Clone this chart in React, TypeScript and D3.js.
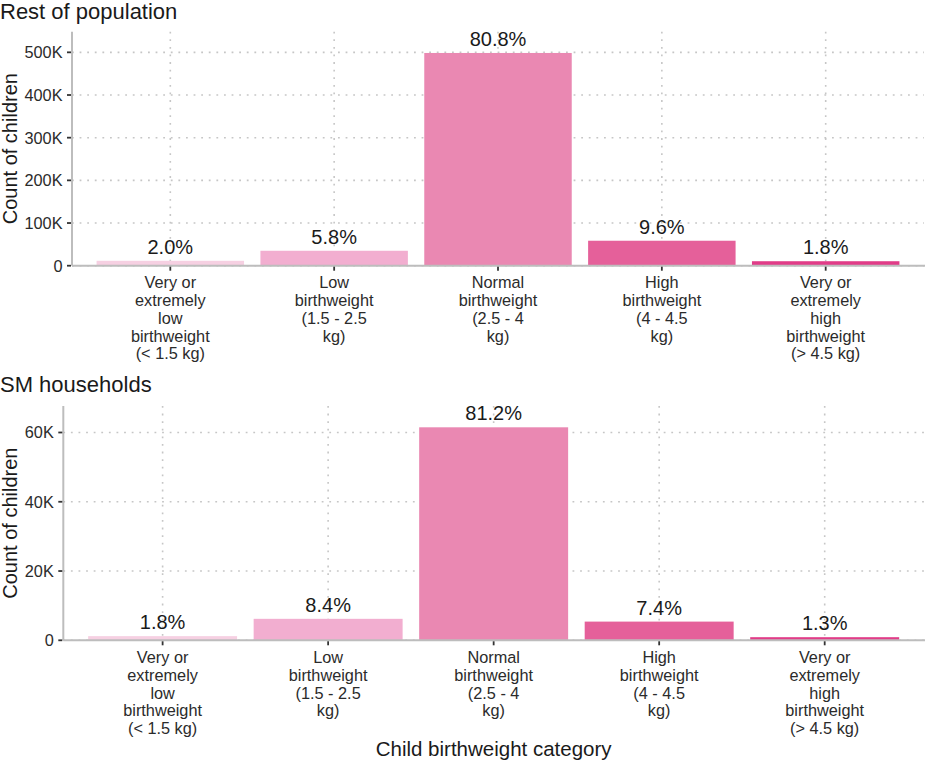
import React from "react";
import * as d3 from "d3";

const categoryLines: string[][] = [
  ["Very or", "extremely", "low", "birthweight", "(< 1.5 kg)"],
  ["Low", "birthweight", "(1.5 - 2.5", "kg)"],
  ["Normal", "birthweight", "(2.5 - 4", "kg)"],
  ["High", "birthweight", "(4 - 4.5", "kg)"],
  ["Very or", "extremely", "high", "birthweight", "(> 4.5 kg)"],
];
const categoryKeys = ["vlow", "low", "normal", "high", "vhigh"];
const barColors = ["#f6d0e2", "#f2aed0", "#ea88b2", "#e5609a", "#e13c88"];

const restCounts = [11500, 35000, 498500, 58500, 10500];
const restPct = ["2.0%", "5.8%", "80.8%", "9.6%", "1.8%"];
const restTicks = [0, 100000, 200000, 300000, 400000, 500000];

const smCounts = [1200, 6200, 61500, 5400, 900];
const smPct = ["1.8%", "8.4%", "81.2%", "7.4%", "1.3%"];
const smTicks = [0, 20000, 40000, 60000];

const FONT = "'Liberation Sans', Arial, sans-serif";
const fmt = (v: number) => (v === 0 ? "0" : `${v / 1000}K`);

type PanelProps = {
  title: string;
  titleY: number;
  counts: number[];
  pct: string[];
  ticks: number[];
  left: number;
  right: number;
  top: number;
  bottom: number;
  labelOffset: number;
};

function Panel({ title, titleY, counts, pct, ticks, left, right, top, bottom, labelOffset }: PanelProps) {
  const x = d3
    .scaleBand<string>()
    .domain(categoryKeys)
    .range([left, right])
    .paddingInner(0.1)
    .paddingOuter(0.15);
  const maxV = d3.max(counts) as number;
  const y = d3.scaleLinear().domain([0, maxV * 1.1]).range([bottom, top]);
  const bw = x.bandwidth();
  const grid = "#c6c6c6";
  const dash = "1.8 5.8";
  return (
    <g>
      <text x={0} y={titleY} fontSize={22} fill="#1a1a1a" fontFamily={FONT}>
        {title}
      </text>
      {ticks.map((t) => (
        <line
          key={"h" + t}
          x1={left}
          x2={right}
          y1={y(t)}
          y2={y(t)}
          stroke={grid}
          strokeWidth={1.6}
          strokeDasharray={dash}
        />
      ))}
      {categoryKeys.map((k) => (
        <line
          key={"v" + k}
          x1={(x(k) as number) + bw / 2}
          x2={(x(k) as number) + bw / 2}
          y1={top}
          y2={bottom}
          stroke={grid}
          strokeWidth={1.6}
          strokeDasharray={dash}
        />
      ))}
      {categoryKeys.map((k, i) => (
        <rect
          key={"b" + k}
          x={x(k)}
          y={y(counts[i])}
          width={bw}
          height={bottom - y(counts[i])}
          fill={barColors[i]}
        />
      ))}
      {categoryKeys.map((k, i) => (
        <text
          key={"l" + k}
          x={(x(k) as number) + bw / 2}
          y={y(counts[i]) - 7}
          textAnchor="middle"
          fontSize={20}
          fill="#1a1a1a"
          fontFamily={FONT}
        >
          {pct[i]}
        </text>
      ))}
      <line x1={left} x2={left} y1={top} y2={bottom} stroke="#bdbdbd" strokeWidth={2} />
      <line x1={left} x2={right + 1} y1={bottom} y2={bottom} stroke="#bdbdbd" strokeWidth={2} />
      {ticks.map((t) => (
        <g key={"yt" + t}>
          <line x1={left - 5} x2={left - 1} y1={y(t)} y2={y(t)} stroke="#333" strokeWidth={1.8} />
          <text
            x={left - 9.5}
            y={y(t)}
            dy="0.36em"
            textAnchor="end"
            fontSize={16.3}
            fill="#2b2b2b"
            fontFamily={FONT}
          >
            {fmt(t)}
          </text>
        </g>
      ))}
      {categoryKeys.map((k, i) => {
        const cx = (x(k) as number) + bw / 2;
        return (
          <g key={"xt" + k}>
            <line x1={cx} x2={cx} y1={bottom + 1} y2={bottom + 5} stroke="#333" strokeWidth={1.8} />
            <text textAnchor="middle" fontSize={16.3} fill="#2b2b2b" fontFamily={FONT}>
              {categoryLines[i].map((ln, j) => (
                <tspan key={j} x={cx} y={bottom + labelOffset + j * 17.7}>
                  {ln}
                </tspan>
              ))}
            </text>
          </g>
        );
      })}
      <text
        transform={`translate(${16.5},${(top + bottom) / 2}) rotate(-90)`}
        textAnchor="middle"
        fontSize={20}
        fill="#1a1a1a"
        fontFamily={FONT}
      >
        Count of children
      </text>
    </g>
  );
}

export default function App() {
  return (
    <svg
      width={925}
      height={760}
      style={{ position: "absolute", left: 0, top: 0, background: "#fff" }}
    >
      <rect width={925} height={760} fill="#fff" />
      <Panel
        title="Rest of population"
        titleY={18.5}
        counts={restCounts}
        pct={restPct}
        ticks={restTicks}
        left={72}
        right={924}
        top={31.7}
        bottom={265.7}
        labelOffset={22.7}
      />
      <Panel
        title="SM households"
        titleY={392}
        counts={smCounts}
        pct={smPct}
        ticks={smTicks}
        left={63.3}
        right={924}
        top={406}
        bottom={640.3}
        labelOffset={23}
      />
      <text
        x={(63.3 + 924) / 2}
        y={756}
        textAnchor="middle"
        fontSize={20.5}
        fill="#1a1a1a"
        fontFamily={FONT}
      >
        Child birthweight category
      </text>
    </svg>
  );
}
